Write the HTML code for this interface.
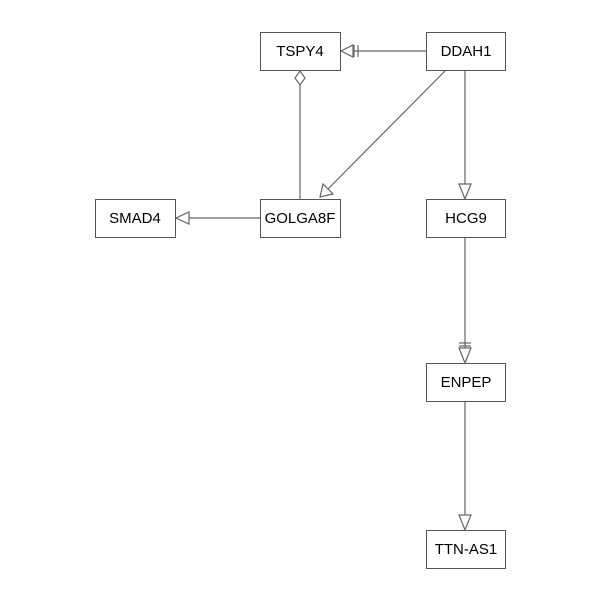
<!DOCTYPE html>
<html><head><style>body{margin:0;background:#fff}</style></head><body>
<svg width="600" height="600" xmlns="http://www.w3.org/2000/svg" font-family="Liberation Sans, sans-serif" font-size="15">
<g fill="#fff" stroke="#555" stroke-width="1">
<rect x="260.5" y="32.5" width="80" height="38"/>
<rect x="426.5" y="32.5" width="79" height="38"/>
<rect x="260.5" y="199.5" width="80" height="38"/>
<rect x="95.5" y="199.5" width="80" height="38"/>
<rect x="426.5" y="199.5" width="79" height="38"/>
<rect x="426.5" y="363.5" width="79" height="38"/>
<rect x="426.5" y="530.5" width="79" height="38"/>
</g>
<g stroke="#666" stroke-width="1.2" fill="#fff">
<line x1="426" y1="51" x2="353" y2="51"/>
<polygon points="341,51 353,45 353,57"/>
<line x1="354" y1="45" x2="354" y2="57"/><line x1="358" y1="45" x2="358" y2="57"/>
<line x1="445" y1="71" x2="326" y2="191"/>
<polygon points="320,197 323,184 333,194"/>
<line x1="465" y1="71" x2="465" y2="184"/>
<polygon points="465,199 459,184 471,184"/>
<line x1="300" y1="85" x2="300" y2="199"/>
<polygon points="300,71 305,78 300,85 295,78"/>
<line x1="260" y1="218" x2="189" y2="218"/>
<polygon points="176,218 189,212 189,224"/>
<line x1="465" y1="238" x2="465" y2="348"/>
<line x1="459" y1="343" x2="471" y2="343"/><line x1="459" y1="346" x2="471" y2="346"/>
<polygon points="465,363 459,348 471,348"/>
<line x1="465" y1="402" x2="465" y2="515"/>
<polygon points="465,530 459,515 471,515"/>
</g>
<g fill="#000" text-anchor="middle">
<text x="300" y="56">TSPY4</text>
<text x="466" y="56">DDAH1</text>
<text x="300" y="223">GOLGA8F</text>
<text x="135" y="223">SMAD4</text>
<text x="466" y="223">HCG9</text>
<text x="466" y="387">ENPEP</text>
<text x="466" y="554">TTN-AS1</text>
</g>
</svg>
</body></html>
